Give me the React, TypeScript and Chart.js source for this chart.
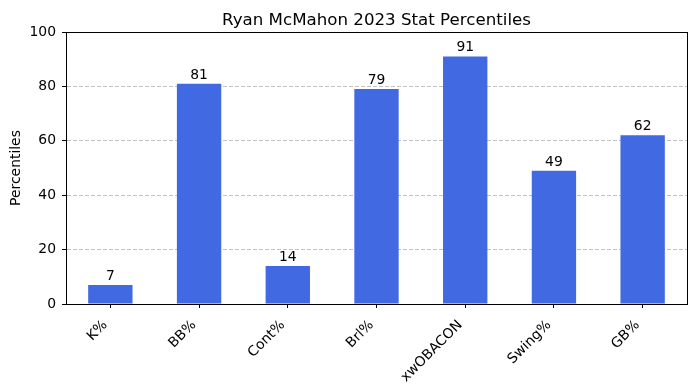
import React, { useEffect, useRef } from "react";
import { Chart, registerables } from "chart.js";

Chart.register(...registerables);

const categories = ["K%", "BB%", "Cont%", "Brl%", "xwOBACON", "Swing%", "GB%"];
const percentiles = [7, 81, 14, 79, 91, 49, 62];
const yTicks = [0, 20, 40, 60, 80, 100];
const chartTitle = "Ryan McMahon 2023 Stat Percentiles";
const yTitle = "Percentiles";

const FONT = "'DejaVu Sans', sans-serif";

export default function App() {
  const ref = useRef<HTMLCanvasElement | null>(null);

  useEffect(() => {
    document.body.style.margin = "0";
    const canvas = ref.current;
    if (!canvas) return;

    const valueLabels = {
      id: "valueLabels",
      afterDatasetsDraw(chart: any) {
        const ctx = chart.ctx;
        const meta = chart.getDatasetMeta(0);
        ctx.save();
        ctx.font = `13.9px ${FONT}`;
        ctx.fillStyle = "#000";
        ctx.textAlign = "center";
        ctx.textBaseline = "alphabetic";
        meta.data.forEach((bar: any, i: number) => {
          ctx.fillText(String(percentiles[i]), bar.x, bar.y - 5);
        });
        ctx.restore();
      },
    };

    const frameAndTitle = {
      id: "frameAndTitle",
      afterDraw(chart: any) {
        const { ctx, chartArea } = chart;
        ctx.save();
        ctx.strokeStyle = "#000";
        ctx.lineWidth = 1;
        ctx.strokeRect(
          Math.round(chartArea.left) + 0.5,
          Math.round(chartArea.top) + 0.5,
          Math.round(chartArea.right - chartArea.left),
          Math.round(chartArea.bottom - chartArea.top)
        );
        ctx.font = `16.67px ${FONT}`;
        ctx.fillStyle = "#000";
        ctx.textAlign = "center";
        ctx.textBaseline = "alphabetic";
        ctx.fillText(chartTitle, (chartArea.left + chartArea.right) / 2, chartArea.top - 7);
        ctx.restore();
      },
    };

    const chart = new Chart(canvas, {
      type: "bar",
      data: {
        labels: categories,
        datasets: [
          {
            data: percentiles,
            backgroundColor: "#4169E1",
            borderWidth: 0,
            barPercentage: 0.5,
            categoryPercentage: 1,
          },
        ],
      },
      options: {
        responsive: false,
        animation: false,
        devicePixelRatio: 1,
        layout: { padding: { left: 0, right: 8, top: 32, bottom: 0 } },
        plugins: {
          legend: { display: false },
          tooltip: { enabled: false },
          title: { display: false },
        },
        scales: {
          x: {
            grid: {
              display: true,
              drawOnChartArea: false,
              drawTicks: true,
              tickLength: 4,
              offset: false,
              tickColor: "#000",
            },
            border: { display: true, color: "#000" },
            ticks: {
              autoSkip: false,
              minRotation: 45,
              maxRotation: 45,
              padding: 9,
              labelOffset: -5,
              color: "#000",
              font: { family: FONT, size: 13.9 },
            },
            afterFit(scale: any) {
              scale.height = 86;
            },
          },
          y: {
            min: 0,
            max: 100,
            z: 1,
            afterBuildTicks(scale: any) {
              scale.ticks = yTicks.map((v) => ({ value: v }));
            },
            grid: {
              color: "rgba(176,176,176,0.8)",
              lineWidth: 1,
              tickColor: "#000",
              tickBorderDash: [],
              tickLength: 4,
              tickWidth: 1,
            },
            border: { display: true, color: "#000", dash: [4, 2] },
            ticks: {
              padding: 6,
              color: "#000",
              font: { family: FONT, size: 13.9 },
            },
            title: {
              display: true,
              text: yTitle,
              color: "#000",
              font: { family: FONT, size: 13.9 },
              padding: { top: 8, bottom: 0 },
            },
            afterFit(scale: any) {
              scale.width = 66;
            },
          },
        },
      },
      plugins: [valueLabels, frameAndTitle],
    } as any);

    return () => chart.destroy();
  }, []);

  return (
    <div style={{ width: 695, height: 390 }}>
      <canvas ref={ref} width={695} height={390} style={{ display: "block" }} />
    </div>
  );
}
